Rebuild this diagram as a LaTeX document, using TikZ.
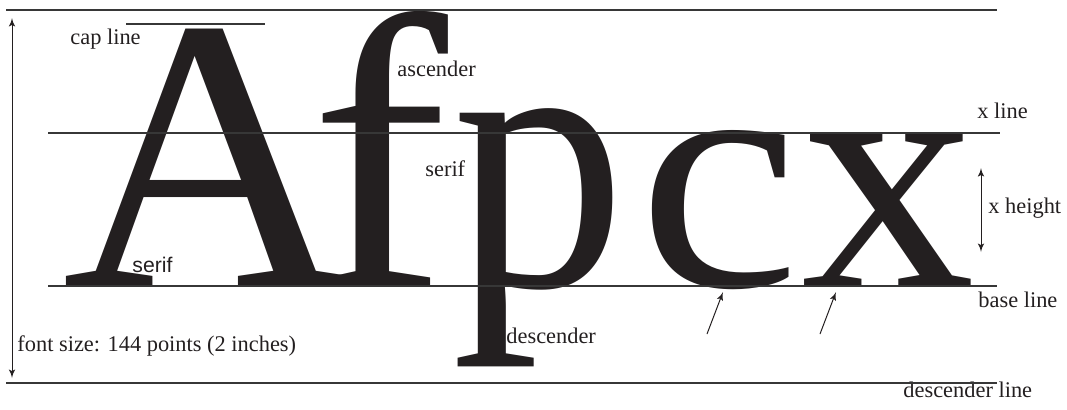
\documentclass[tikz,border=0pt]{standalone}
\usepackage{fontspec}
\usepackage{graphicx}
\setmainfont{Liberation Serif}
\newfontfamily\labelsans{Liberation Sans}
\usetikzlibrary{arrows}
\definecolor{ink}{RGB}{35,31,32}
\definecolor{rule}{RGB}{55,55,55}
\tikzstyle{guide} = [draw=rule, line width=0.55pt]
\tikzstyle{glyph} = [inner sep=0pt, outer sep=0pt, text=ink, anchor=base west]
\tikzstyle{lower} = [glyph, font=\fontsize{165.6}{166}\selectfont]
\tikzstyle{caption} = [inner sep=0pt, anchor=base west, text=ink, font=\fontsize{11.2}{13}\selectfont]
\tikzstyle{pointer} = [draw=ink, line width=0.5pt]

\begin{document}
\begin{tikzpicture}[x=0.5pt, y=-0.5pt, >=latex']
    \useasboundingbox (0,0) rectangle (1067,409);
    % Guide line ends
    \coordinate (asc west) at (6,10);
    \coordinate (asc east) at (997,10);
    \coordinate (cap west) at (126,24);
    \coordinate (cap east) at (265,24);
    \coordinate (xl west) at (48,133);
    \coordinate (xl east) at (1000,133);
    \coordinate (base west) at (48,286);
    \coordinate (base east) at (997,286);
    \coordinate (desc west) at (6,383);
    \coordinate (desc east) at (997,383);

    % Drawing the letters
    \node [glyph, font=\fontsize{195}{195}\selectfont] (A) at (62,286) {\scalebox{1.03}[1]{A}};
    \node [lower] (f) at (310,286) {\scalebox{1.25}[1.18]{f}};
    \node [lower] (p) at (452,286) {\scalebox{1.05}[1.14]{p}};
    \node [lower] (c) at (638,286) {\scalebox{1.1}[1]{c}};
    \node [lower] (x) at (801,286) {\scalebox{1.05}[1]{x}};

    % Labels
    \node [caption] (cap label) at (70,44) {cap line};
    \node [caption] (asc label) at (397,76) {ascender};
    \node [caption] (xline label) at (977,118) {x line};
    \node [caption] (serif label) at (425,176) {serif};
    \node [caption] (xheight label) at (988,213) {x height};
    \node [caption, font=\labelsans\fontsize{10.6}{12}\selectfont] (foot label) at (132,272) {serif};
    \node [caption] (base label) at (978,307) {base line};
    \node [caption] (size label) at (17,351) {font size: 144 points (2 inches)};
    \node [caption] (desc label) at (506,343) {descender};
    \node [caption] (descline label) at (903,397) {descender line};

    % Arrow ends
    \coordinate (size top) at (12,18);
    \coordinate (size bottom) at (12,378);
    \coordinate (xh top) at (981,168);
    \coordinate (xh bottom) at (981,252);
    \coordinate (c tail) at (707,334);
    \coordinate (c foot) at (723,292);
    \coordinate (x tail) at (820,334);
    \coordinate (x foot) at (836,292);

    % Connectors
    \draw [guide] (asc west) -- (asc east);
    \draw [guide] (cap west) -- (cap east);
    \draw [guide] (xl west) -- (xl east);
    \draw [guide] (base west) -- (base east);
    \draw [guide] (desc west) -- (desc east);
    \draw [pointer, <->] (size top) -- (size bottom);
    \draw [pointer, <->] (xh top) -- (xh bottom);
    \draw [pointer, ->] (c tail) -- (c foot);
    \draw [pointer, ->] (x tail) -- (x foot);
\end{tikzpicture}
\end{document}
